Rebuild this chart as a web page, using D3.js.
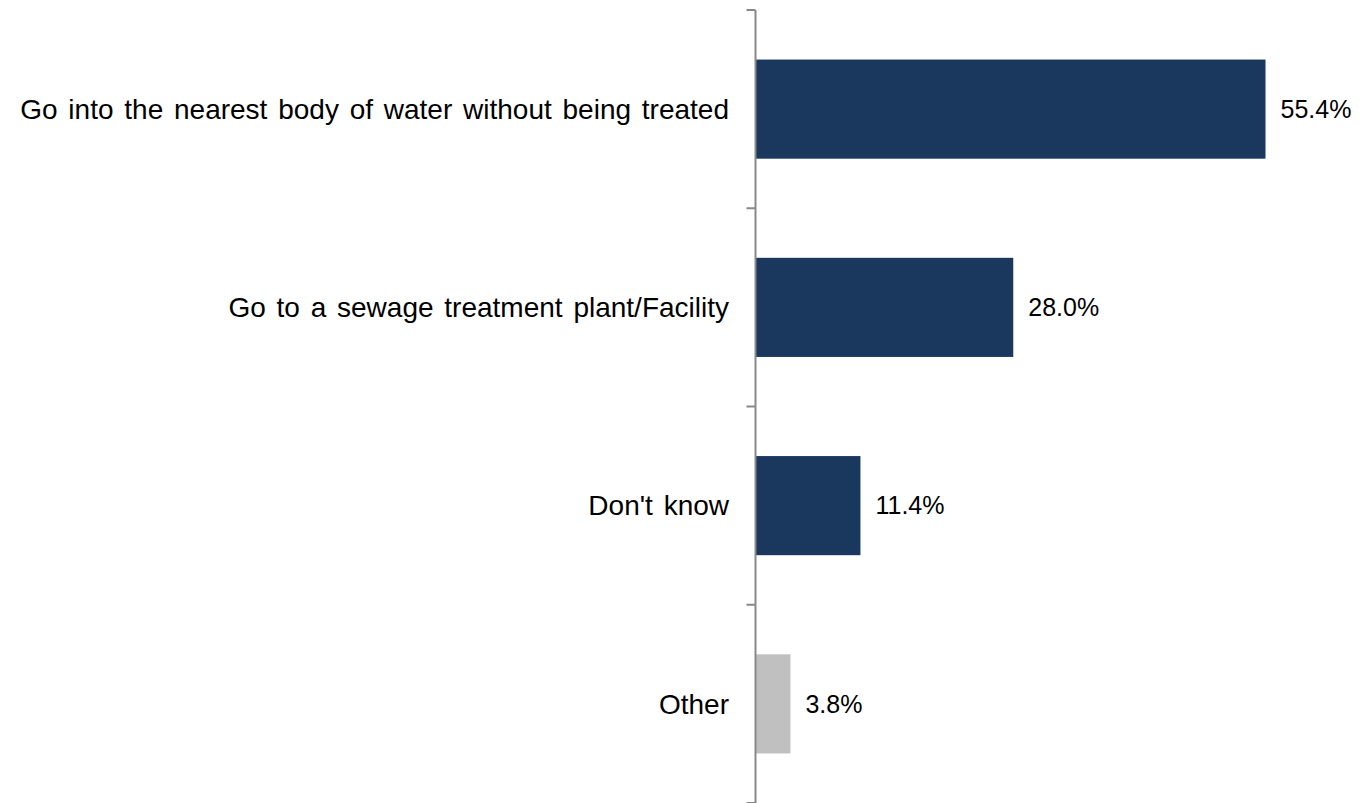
<!DOCTYPE html>
<html><head><meta charset="utf-8">
<script src="https://cdn.jsdelivr.net/npm/d3@7"></script>
<style>body{margin:0;background:#fff}svg{display:block}</style>
</head><body>
<svg id="c" width="1360" height="803"></svg>
<script>
const categories = ["Go into the nearest body of water without being treated","Go to a sewage treatment plant/Facility","Don't know","Other"];
const values = [55.4, 28.0, 11.4, 3.8];
const colors = ["#1A375E","#1A375E","#1A375E","#C0C0C0"];
const valueLabels = ["55.4%","28.0%","11.4%","3.8%"];

const svg = d3.select("#c");
const x0 = 755.5;
const x = d3.scaleLinear().domain([0, 55.4]).range([x0, 1265.5]);
const y = d3.scaleBand().domain(categories).range([10, 803]).paddingInner(0.5).paddingOuter(0.25);

const font = "Liberation Sans, Arial, sans-serif";

svg.selectAll("rect.bar").data(values).join("rect")
  .attr("x", x0).attr("y", (d,i)=>y(categories[i]))
  .attr("width", d=>x(d)-x0).attr("height", y.bandwidth())
  .attr("fill", (d,i)=>colors[i]);

// axis
const step = y.step();
const ticks = d3.range(categories.length+1).map(i=>10+i*step);
svg.append("line").attr("x1",x0).attr("x2",x0).attr("y1",10).attr("y2",803).attr("stroke","#898989").attr("stroke-width",2);
svg.selectAll("line.tick").data(ticks).join("line").attr("class","tick")
  .attr("x1",x0-9).attr("x2",x0).attr("y1",d=>d).attr("y2",d=>d).attr("stroke","#898989").attr("stroke-width",2);

svg.selectAll("text.cat").data(categories).join("text").attr("class","cat")
  .attr("x", 729).attr("y", d=>y(d)+y.bandwidth()/2).attr("dy","0.35em")
  .attr("text-anchor","end").attr("font-family",font).attr("font-size",28)
  .attr("word-spacing","3px").attr("fill","#000")
  .text(d=>d);

svg.selectAll("text.val").data(values).join("text").attr("class","val")
  .attr("x", d=>x(d)+15).attr("y", (d,i)=>y(categories[i])+y.bandwidth()/2).attr("dy","0.35em")
  .attr("font-family",font).attr("font-size",25).attr("fill","#000")
  .text((d,i)=>valueLabels[i]);
</script>
</body></html>
